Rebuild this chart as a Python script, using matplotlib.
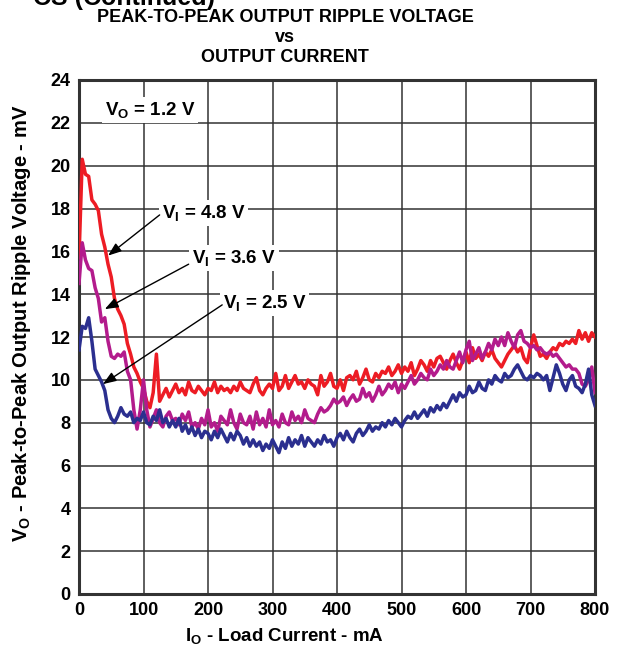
import matplotlib
matplotlib.use("Agg")
import matplotlib.pyplot as plt

current_ma = list(range(0, 805, 5))

ripple_vi_48 = [
    15.7, 20.3, 19.6, 19.5, 18.4, 18.2, 17.9, 16.8, 16.2, 15.4,
    14.8, 13.8, 13.3, 13.0, 12.6, 11.7, 11.2, 10.6, 10.3, 9.9,
    9.6, 9.0, 8.7, 9.4, 11.2, 9.0, 9.3, 9.6, 9.2, 9.5,
    9.8, 9.4, 9.6, 9.3, 9.9, 9.5, 9.4, 9.7, 9.5, 9.3,
    9.6, 9.5, 9.9, 9.4, 9.7, 9.5, 9.6, 9.4, 9.7, 9.5,
    9.9, 9.6, 9.5, 9.4, 9.8, 10.1, 9.5, 9.3, 9.6, 9.8,
    9.6, 10.3, 9.5, 9.7, 10.2, 9.6, 9.9, 10.2, 9.8, 9.9,
    9.6, 10.0, 9.8, 9.7, 9.3, 10.2, 9.7, 9.9, 10.3, 9.7,
    9.6, 10.0, 9.5, 10.1, 10.2, 10.0, 10.4, 9.8, 10.1, 10.5,
    10.0, 9.9, 10.3, 10.1, 10.4, 10.3, 10.6, 10.2, 10.4, 10.7,
    10.3, 10.6, 10.4, 10.8, 10.2, 10.5, 10.9, 10.7, 10.4, 10.9,
    10.6, 11.0, 11.1, 10.8, 10.5, 10.9, 11.2, 10.8, 10.5, 10.9,
    11.3, 10.8, 11.5, 11.0, 11.2, 10.9, 11.3, 11.1, 11.4, 11.0,
    10.8, 10.6, 10.9, 11.2, 11.4, 11.6, 11.3, 11.5, 11.0, 10.8,
    11.5, 12.1, 11.6, 11.1, 11.2, 11.0, 11.3, 11.5, 11.4, 11.7,
    11.6, 11.8, 11.7, 11.9, 11.7, 12.3, 11.9, 12.2, 11.8, 12.2,
    12.0,
]

ripple_vi_36 = [
    14.5, 16.4, 15.6, 15.2, 15.1, 14.3, 13.8, 12.7, 12.9, 11.8,
    11.1, 11.0, 11.2, 11.1, 11.3, 10.4, 10.0, 8.6, 7.7, 8.6,
    10.0, 8.6, 7.8, 8.2, 8.6, 8.0, 7.8, 8.3, 8.5, 8.1,
    8.2, 7.9, 8.4, 8.1, 8.5, 7.8, 8.0, 7.7, 8.2, 7.9,
    8.6, 7.8, 8.0, 7.6, 8.3, 8.1, 7.9, 8.6, 8.0, 7.7,
    8.4, 8.0, 7.9, 8.3, 7.7, 8.5, 7.9, 8.2, 7.8, 8.6,
    7.9, 8.1, 7.8, 8.4, 8.0, 7.9, 8.5, 8.1, 8.3, 8.0,
    8.6, 8.2, 8.1, 8.0, 8.4, 8.7, 8.5, 8.6, 8.8, 9.1,
    8.9, 9.0, 9.2, 8.8, 9.1, 9.3, 9.0, 9.1, 9.6, 9.2,
    9.4, 9.0, 9.3, 9.7, 9.3, 9.5, 9.8, 9.6, 9.9, 9.4,
    9.8, 9.6, 9.9, 10.2, 9.8, 10.0, 10.3, 10.1, 10.0, 10.5,
    10.2, 10.4, 10.7, 10.5, 10.9, 10.6, 10.5, 10.9, 11.3, 10.8,
    11.4, 11.8, 10.9, 11.2, 11.5, 11.0, 11.3, 11.7, 11.4, 11.9,
    11.6, 12.0, 11.6, 12.2, 11.8, 11.5, 12.1, 12.3, 11.8, 11.7,
    11.5, 11.6, 11.4, 11.5, 11.3, 11.2, 11.3, 11.1, 11.2, 11.0,
    10.8, 10.6, 10.7, 10.5, 10.5, 10.3, 9.8, 9.7, 10.0, 10.6,
    9.4,
]

ripple_vi_25 = [
    11.4, 12.5, 12.4, 12.9, 11.8, 10.5, 10.2, 9.9, 9.5, 8.6,
    8.2, 8.0, 8.3, 8.7, 8.4, 8.3, 8.5, 8.0, 8.2, 8.1,
    8.5, 8.0, 7.9, 8.3, 8.1, 8.6, 8.0, 8.2, 7.8, 8.1,
    7.8, 8.2, 7.6, 7.9, 7.5, 7.8, 7.4, 7.7, 7.3, 7.6,
    7.5, 7.2, 7.6, 7.3, 7.7, 7.4, 7.1, 7.5, 7.2, 7.6,
    7.4, 7.0, 7.3, 6.9, 7.2, 6.9, 7.1, 6.7, 7.0, 6.8,
    7.2, 6.9, 6.6, 7.1, 6.8, 7.3, 6.9, 7.2, 7.0, 7.4,
    6.9, 7.3, 7.1, 6.9, 7.2, 7.0, 7.4, 7.1, 7.2, 6.9,
    7.3, 7.5, 7.2, 7.6, 7.3, 7.1, 7.5, 7.7, 7.4, 7.6,
    7.9, 7.6, 7.8, 7.7, 8.0, 7.8, 8.1, 7.9, 8.2, 8.0,
    7.8, 8.1, 8.3, 8.2, 8.5, 8.2, 8.4, 8.6, 8.3, 8.7,
    8.5, 8.8, 8.6, 8.9, 8.7, 9.0, 9.3, 9.0, 9.4, 9.2,
    9.3, 9.7, 9.4, 9.5, 9.9, 9.6, 9.5, 10.0, 9.8, 10.2,
    10.0, 9.9, 10.3, 10.1, 10.2, 10.5, 10.7, 10.4, 10.1, 10.0,
    10.2, 10.1, 10.3, 10.2, 10.0, 10.2, 9.5, 10.1, 10.7, 10.3,
    9.8, 9.5, 10.0, 10.2, 9.7, 9.6, 9.4, 9.8, 10.5, 9.3,
    8.8,
]

series_labels = ["V$_\\mathregular{I}$ = 4.8 V", "V$_\\mathregular{I}$ = 3.6 V", "V$_\\mathregular{I}$ = 2.5 V"]
series_colors = ["#ED1C24", "#B31B8C", "#2B2F8F"]

x_ticks = [0, 100, 200, 300, 400, 500, 600, 700, 800]
y_ticks = [0, 2, 4, 6, 8, 10, 12, 14, 16, 18, 20, 22, 24]

FONT = ["Liberation Sans", "DejaVu Sans"]
plt.rcParams["font.family"] = FONT
plt.rcParams["mathtext.fontset"] = "custom"
plt.rcParams["mathtext.rm"] = "Liberation Sans:bold"
plt.rcParams["mathtext.it"] = "Liberation Sans:bold"
plt.rcParams["mathtext.bf"] = "Liberation Sans:bold"

W, H = 624, 649
fig = plt.figure(figsize=(6.24, 6.49), dpi=100)
ax = fig.add_axes([79 / W, 1 - 594 / H, (595 - 79) / W, (594 - 80) / H])

ax.set_xlim(0, 800)
ax.set_ylim(0, 24)
ax.set_xticks(x_ticks)
ax.set_yticks(y_ticks)
ax.grid(True, color="#333333", linewidth=1.1, zorder=0)
ax.tick_params(length=0, labelsize=13, pad=6)
for lbl in ax.get_xticklabels() + ax.get_yticklabels():
    lbl.set_fontweight("bold")
for sp in ax.spines.values():
    sp.set_linewidth(2.2)
    sp.set_color("#333333")

for vals, col in zip([ripple_vi_48, ripple_vi_36, ripple_vi_25], series_colors):
    ax.plot(current_ma, vals, color=col, linewidth=2.5, zorder=3)

bbox = dict(facecolor="white", edgecolor="none", pad=2)
ax.text(40, 22.6, "V$_\\mathregular{O}$ = 1.2 V", fontsize=13.5, fontweight="bold",
        ha="left", va="center", bbox=bbox, zorder=4)

label_pos = [(128, 17.8), (175, 15.7), (223, 13.6)]
arrow_tips = [(45, 15.8), (40, 13.3), (37, 9.8)]
arrow_tails = [(125, 17.7), (170, 15.4), (222, 13.5)]
for lab, pos, tip, tail in zip(series_labels, label_pos, arrow_tips, arrow_tails):
    ax.text(pos[0], pos[1], lab, fontsize=13.5, fontweight="bold", ha="left",
            va="center", bbox=bbox, zorder=4)
    ax.annotate("", xy=tip, xytext=tail,
                arrowprops=dict(arrowstyle="-|>,head_length=0.8,head_width=0.3",
                                color="black", lw=1.0, shrinkA=0, shrinkB=0),
                zorder=5)

fig.text(284 / W, 1 - 641 / H, "I$_\\mathregular{O}$ - Load Current - mA", fontsize=13.5,
         fontweight="bold", ha="center", va="baseline")
fig.text(22 / W, 1 - 323 / H, "V$_\\mathregular{O}$ - Peak-to-Peak Output Ripple Voltage - mV",
         fontsize=14.5, fontweight="bold", rotation=90, ha="center", va="center")

fig.text(285 / W, 1 - 17 / H, "PEAK-TO-PEAK OUTPUT RIPPLE VOLTAGE", ha="center", va="center",
         fontsize=13, fontweight="bold")
fig.text(285 / W, 1 - 38 / H, "vs", ha="center", va="center", fontsize=13, fontweight="bold")
fig.text(285 / W, 1 - 58 / H, "OUTPUT CURRENT", ha="center", va="center",
         fontsize=13, fontweight="bold")
fig.text(215 / W, 1 - 5 / H, "CS (Continued)", ha="right", va="baseline",
         fontsize=18, fontweight="bold")

fig.savefig("out.png", dpi=100)
